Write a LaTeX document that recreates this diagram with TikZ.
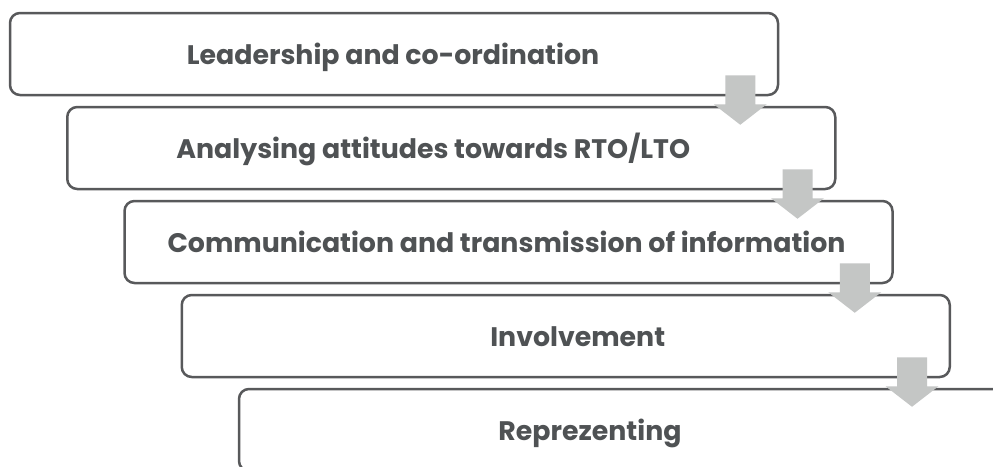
\documentclass[tikz,border=0pt]{standalone}
\usepackage{fontspec}
\setmainfont{Poppins}
\usetikzlibrary{calc}
\definecolor{boxline}{HTML}{58595B}
\definecolor{txt}{HTML}{4F5254}
\definecolor{arrowgray}{HTML}{C4C6C5}
\begin{document}
\begin{tikzpicture}[x=1pt,y=-1pt,
  stepbox/.style={draw=boxline, line width=2.5pt, rounded corners=10pt, fill=white,
    minimum width=768pt, minimum height=82pt, inner sep=0pt},
  lbl/.style={anchor=base, text=txt, font=\fontsize{26.8}{32}\selectfont\bfseries, inner sep=0pt},
  flow/.style={fill=arrowgray, draw=none}]
\fill[white] (0,0) rectangle (993,466);
\clip (0,0) rectangle (993,466);
\node[stepbox] (b1) at (394,54) {};
\node[stepbox] (b2) at (451.25,148) {};
\node[stepbox] (b3) at (508.5,242) {};
\node[stepbox] (b4) at (565.75,336) {};
\node[stepbox] (b5) at (623,430) {};
\node[lbl] (t1) at ($(b1.center)+(-1,10.5)$) {Leadership and co-ordination};
\node[lbl] (t2) at ($(b2.center)+(-18,10.5)$) {Analysing attitudes towards RTO/LTO};
\node[lbl] (t3) at ($(b3.center)+(-2,10.5)$) {Communication and transmission of information};
\node[lbl] (t4) at ($(b4.center)+(12,10)$) {Involvement};
\node[lbl] (t5) at ($(b5.center)+(-33,10)$) {Reprezenting};
\foreach \a/\b in {1/2,2/3,3/4,4/5}{
  \fill[flow] ($(b\a.south east)+(-54,-21)$) -- ++(30,0) -- ++(0,29) -- ++(11.5,0)
    -- ($(b\b.north east)+(-96.25,19)$) -- ($(b\a.south east)+(-65.5,8)$) -- ++(11.5,0) -- cycle;
}
\end{tikzpicture}
\end{document}
